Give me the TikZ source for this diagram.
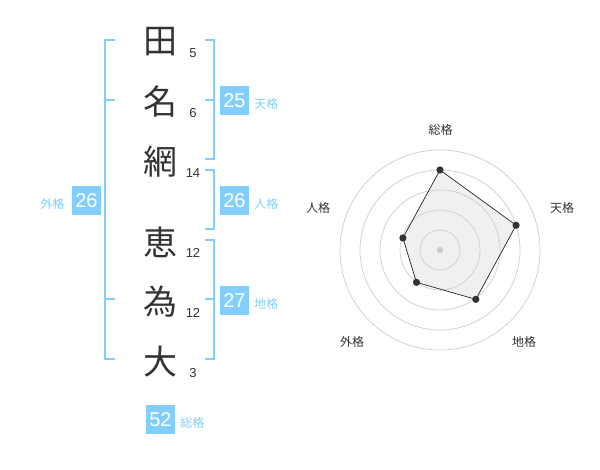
\documentclass[tikz,border=0pt]{standalone}
\usepackage{fontspec}
\setmainfont{Liberation Sans}
\newfontfamily\jpfont{Noto Sans CJK JP}
\usetikzlibrary{positioning}
\definecolor{kakublue}{RGB}{129,206,255}
\definecolor{inkgray}{RGB}{51,51,51}
\definecolor{ringgray}{RGB}{205,205,205}
\tikzset{
	kanji/.style={font=\jpfont\fontsize{34}{34}\selectfont, text=inkgray, inner sep=0pt},
	strokes/.style={font=\fontsize{13}{13}\selectfont, text=inkgray, inner sep=0pt},
	kakubox/.style={fill=kakublue, text=white, minimum size=29pt, inner sep=0pt, font=\fontsize{20}{20}\selectfont},
	kakulabel/.style={font=\jpfont\fontsize{12}{12}\selectfont, text=kakublue, inner sep=0pt},
	bracket/.style={draw=kakublue, line width=1.6pt},
	axislabel/.style={font=\jpfont\fontsize{12}{12}\selectfont, text=inkgray, inner sep=0pt},
}

\begin{document}
\begin{tikzpicture}[x=1pt, y=-1pt]
				\useasboundingbox (0,0) rectangle (600,470);
				% name, one character per row
				\foreach \ch/\y/\n/\k in {田/42/5/a, 名/102/6/b, 網/162/14/c, 恵/242/12/d, 為/302/12/e, 大/362/3/f} {
					\node[kanji] (char\k) at (160,\y) {\ch};
					\node[strokes] (num\k) at (193,\y+11) {\n};
				}
				% brackets
				\draw[bracket] (115,40) -- (105,40) -- (105,359) -- (115,359);
				\draw[bracket] (105,100) -- (115,100);
				\draw[bracket] (105,299) -- (115,299);
				\draw[bracket] (205,40) -- (214,40) -- (214,159) -- (205,159);
				\draw[bracket] (214,100) -- (205,100);
				\draw[bracket] (205,170) -- (214,170) -- (214,229) -- (205,229);
				\draw[bracket] (205,240) -- (214,240) -- (214,359) -- (205,359);
				\draw[bracket] (214,299) -- (205,299);
				% totals
				\node[kakubox] (ten) at (234.5,100.5) {25};
				\node[kakulabel, right=5pt of ten, yshift=-3pt] (tenlabel) {天格};
				\node[kakubox] (jin) at (234.5,200.5) {26};
				\node[kakulabel, right=5pt of jin, yshift=-3pt] (jinlabel) {人格};
				\node[kakubox] (chi) at (234.5,300.5) {27};
				\node[kakulabel, right=5pt of chi, yshift=-3pt] (chilabel) {地格};
				\node[kakubox] (gai) at (86.5,200.5) {26};
				\node[kakulabel, left=7pt of gai, yshift=-3pt] (gailabel) {外格};
				\node[kakubox] (sou) at (160.5,419.5) {52};
				\node[kakulabel, right=5pt of sou, yshift=-3pt] (soulabel) {総格};
				% radar chart
				\coordinate (mid) at (440,250);
				\coordinate (psou) at ([shift={(-90:80)}]mid);
				\coordinate (pten) at ([shift={(-18:80)}]mid);
				\coordinate (pchi) at ([shift={(54:61)}]mid);
				\coordinate (pgai) at ([shift={(126:40)}]mid);
				\coordinate (pjin) at ([shift={(198:39)}]mid);
				\fill[black!6] (psou) -- (pten) -- (pchi) -- (pgai) -- (pjin) -- cycle;
				\foreach \r in {20,40,60,80,100} {
					\draw[ringgray, line width=.7pt] (mid) circle (\r);
				}
				\fill[ringgray] (mid) circle (3.3);
				\draw[black!85, line width=.7pt] (psou) -- (pten) -- (pchi) -- (pgai) -- (pjin) -- cycle;
				\foreach \p in {psou,pten,pchi,pgai,pjin} {
					\fill[inkgray] (\p) circle (3.6);
				}
				\node[axislabel] (asou) at (440.5,130) {総格};
				\node[axislabel] (aten) at (562,208) {天格};
				\node[axislabel] (achi) at (524,342) {地格};
				\node[axislabel] (agai) at (352,342) {外格};
				\node[axislabel] (ajin) at (318,208) {人格};
			\end{tikzpicture}
\end{document}
